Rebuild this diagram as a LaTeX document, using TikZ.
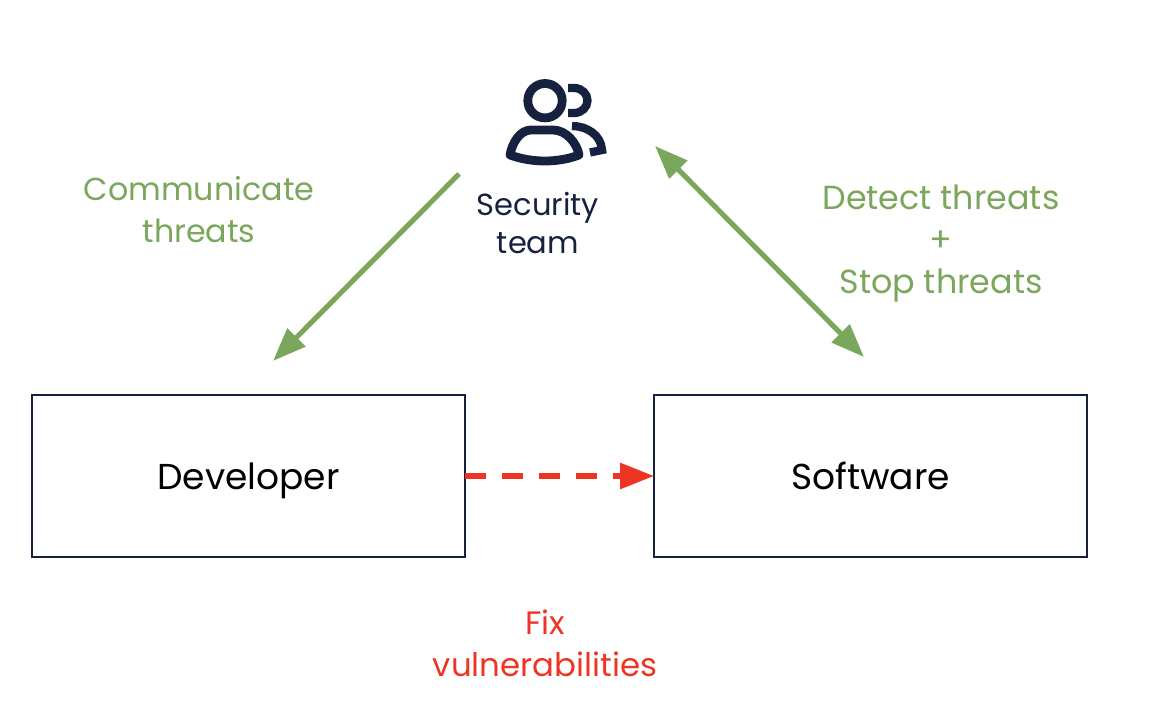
\documentclass[tikz,border=0pt]{standalone}
\usepackage{fontspec}
\setmainfont{Poppins}
\usetikzlibrary{arrows.meta}
\definecolor{gr}{HTML}{7BA75C}
\definecolor{rd}{HTML}{EE3524}
\definecolor{nv}{HTML}{16213F}
\tikzset{x=0.75pt,y=-0.75pt,
 box/.style={draw=nv,line width=2pt,outer sep=0,minimum width=324.75pt,minimum height=121.5pt,inner sep=0,text height=24pt,text depth=4pt,font=\fontsize{27}{31.5}\selectfont,text=black},
 lab/.style={align=center,inner sep=0,font=\fontsize{23.8}{31.5}\selectfont},
 grarrow/.style={draw=gr,line width=3.8pt,-{Triangle[length=25pt,width=18.5pt]}},
 icon/.style={draw=nv,line width=6.6pt,fill=none}}
\begin{document}
\begin{tikzpicture}
\useasboundingbox (0,0) rectangle (1170,710);
\node[box] (dev) at (248.5,476) {Developer};
\node[box] (soft) at (870.5,476) {Software};
\node[lab,text=gr] (comm) at (199,210) {Communicate\\threats};
\node[lab,text=gr,font=\fontsize{25}{31.5}\selectfont] (detect) at (941,243.5) {Detect threats\\+\\Stop threats};
\node[lab,text=rd,font=\fontsize{24.3}{31.5}\selectfont] (fix) at (545,643) {Fix\\vulnerabilities};
\node[lab,text=nv,font=\fontsize{22.9}{28.5}\selectfont] (sec) at (538,223) {Security\\team};
\coordinate (a1) at (459,174);
\coordinate (a2) at (273,361);
\coordinate (b1) at (655,146);
\coordinate (b2) at (864,357);
\draw[grarrow] (a1) -- (a2);
\draw[grarrow,{Triangle[length=25pt,width=18.5pt]}-{Triangle[length=25pt,width=18.5pt]}] (b1) -- (b2);
\draw[draw=rd,line width=3.8pt,dash pattern=on 16pt off 11.75pt,-{Triangle[length=25.5pt,width=19pt]}] (dev.east) -- (soft.west);
% icon
\draw[icon] (545,100.7) circle (17.2);
\draw[icon,line width=6.2pt] (568,88) -- (574,88) .. controls (582,88) and (587.5,94) .. (587.5,100.5) .. controls (587.5,107) and (582,113) .. (574,113) -- (568,113);
\draw[icon,line join=round] (531,130) -- (553,130) .. controls (566,130) and (577,143) .. (579,155) .. controls (558,163) and (532,163) .. (510,155) .. controls (512,143) and (520,130) .. (531,130) -- cycle;
\draw[icon,line width=6.2pt] (572,126) .. controls (587,126) and (601,135) .. (602,150) -- (590,152.5);
\end{tikzpicture}
\end{document}
